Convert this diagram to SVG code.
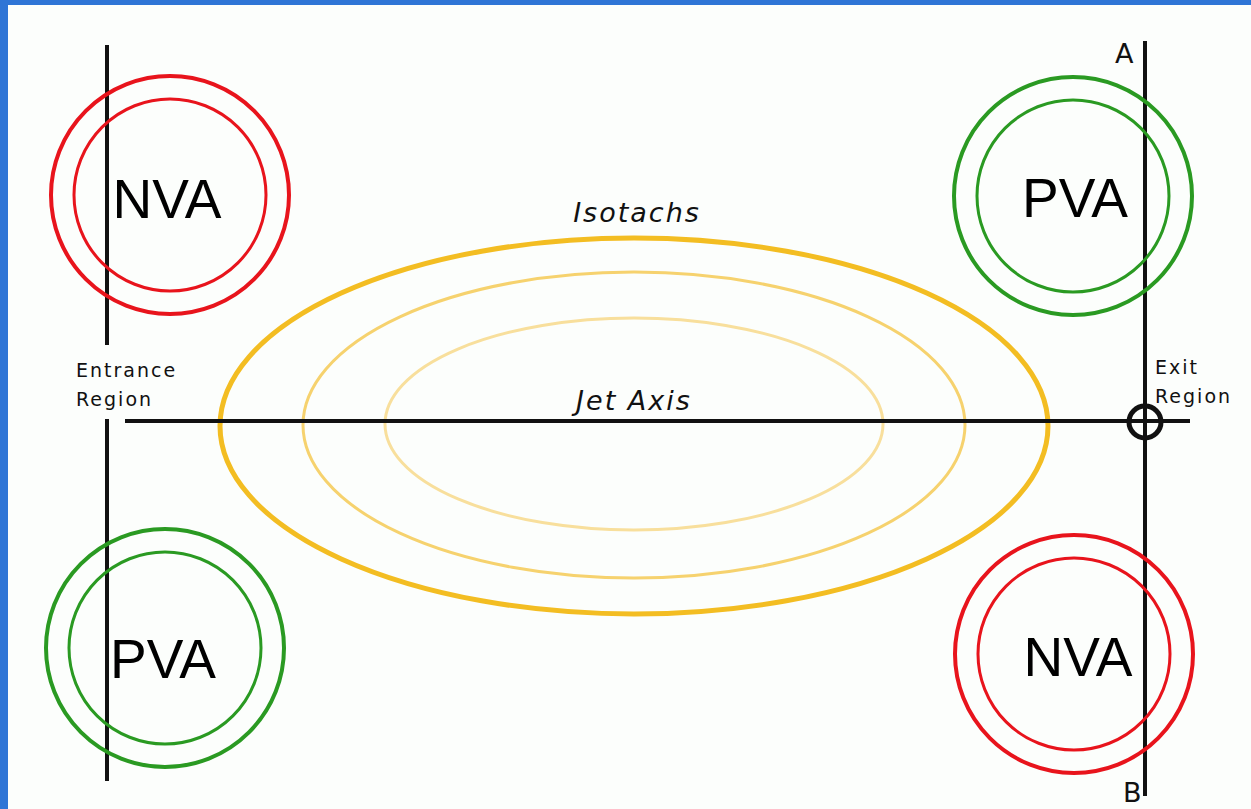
<svg xmlns="http://www.w3.org/2000/svg" width="1251" height="809" viewBox="0 0 1251 809">
<style>
.ring{fill:none;stroke-width:4}
.red{stroke:#e8141c}
.red2{stroke:#e8141c;stroke-width:3}
.grn{stroke:#2a9a22}
.grn2{stroke:#2a9a22;stroke-width:3}
.ln{stroke:#111;stroke-width:4;fill:none}
.big{font-family:"Liberation Sans",Arial,sans-serif;font-size:55px;fill:#000}
.sm{font-family:"DejaVu Sans","Liberation Sans",sans-serif;font-size:19px;fill:#111;letter-spacing:2px}
.ab{font-family:"DejaVu Sans","Liberation Sans",sans-serif;font-size:27px;fill:#111}
.it{font-family:"DejaVu Sans","Liberation Sans",sans-serif;font-size:27px;font-style:italic;fill:#111;letter-spacing:2px}
</style>
<rect width="1251" height="809" fill="#2f75d6"/>
<rect x="8" y="5" width="1243" height="804" fill="#fcfefc"/>
<g id="isotachs">
<ellipse cx="634" cy="426" rx="414" ry="188" fill="none" stroke="#f3bd22" stroke-width="5"/>
<ellipse cx="634" cy="425" rx="331" ry="153" fill="none" stroke="#f6d26e" stroke-width="3"/>
<ellipse cx="634" cy="424" rx="249" ry="106" fill="none" stroke="#f8df9c" stroke-width="3"/>
<text class="it" x="637" y="222" text-anchor="middle">Isotachs</text>
</g>
<g id="connectors">
<line class="ln" x1="107" y1="45" x2="107" y2="345"/>
<line class="ln" x1="107" y1="419" x2="107" y2="781"/>
<line class="ln" x1="1145" y1="41" x2="1145" y2="796"/>
<line class="ln" x1="125" y1="421" x2="1190" y2="421"/>
<circle cx="1145" cy="422" r="16" fill="none" stroke="#111" stroke-width="5"/>
</g>
<g id="nva-left">
<circle class="ring red" cx="170" cy="195" r="119"/>
<circle class="ring red2" cx="170" cy="195" r="96"/>
<text class="big" x="167" y="218" text-anchor="middle">NVA</text>
</g>
<g id="pva-left">
<circle class="ring grn" cx="165" cy="648" r="119"/>
<circle class="ring grn2" cx="165" cy="648" r="96"/>
<text class="big" x="163" y="678" text-anchor="middle">PVA</text>
</g>
<g id="pva-right">
<circle class="ring grn" cx="1073" cy="196" r="119"/>
<circle class="ring grn2" cx="1073" cy="196" r="96"/>
<text class="big" x="1075" y="217" text-anchor="middle">PVA</text>
</g>
<g id="nva-right">
<circle class="ring red" cx="1074" cy="654" r="119"/>
<circle class="ring red2" cx="1074" cy="654" r="96"/>
<text class="big" x="1078" y="676" text-anchor="middle">NVA</text>
</g>
<g id="labels">
<text class="sm" x="76" y="377">Entrance</text>
<text class="sm" x="76" y="406">Region</text>
<text class="sm" x="1155" y="374">Exit</text>
<text class="sm" x="1155" y="403">Region</text>
<text class="ab" x="1115" y="63">A</text>
<text class="ab" x="1123" y="802">B</text>
<text class="it" x="634" y="410" text-anchor="middle">Jet Axis</text>
</g>
</svg>
